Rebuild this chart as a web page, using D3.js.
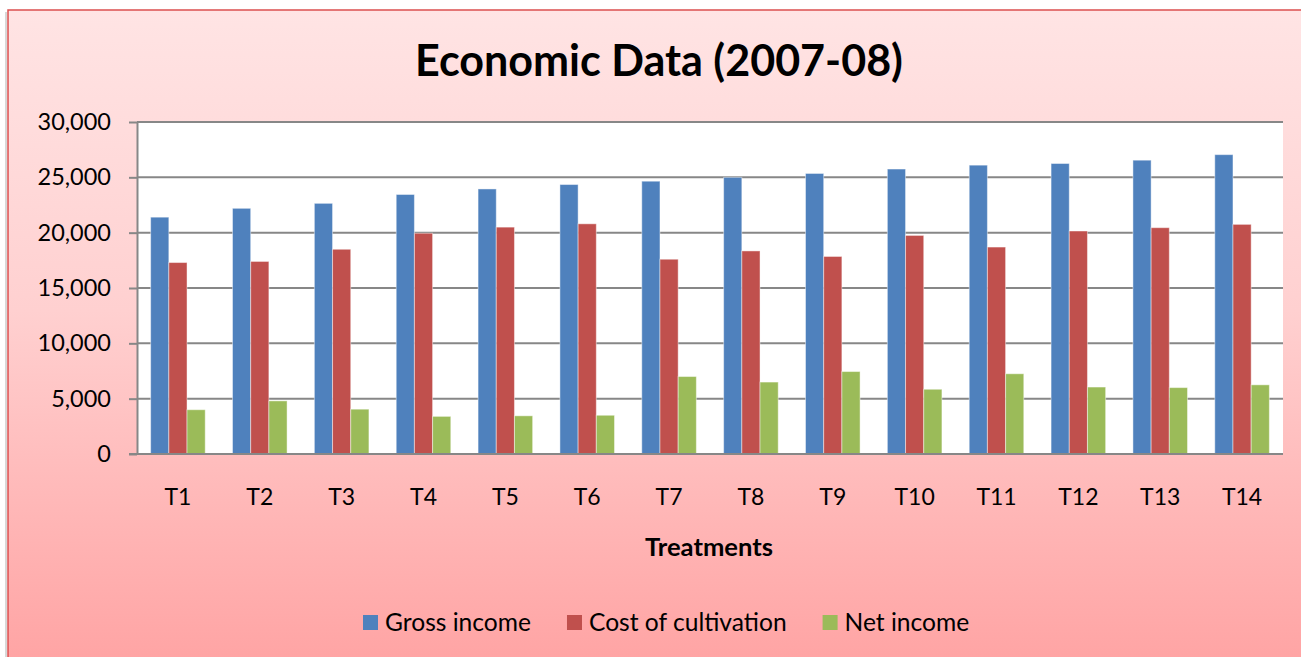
<!DOCTYPE html>
<html>
<head>
<meta charset="utf-8">
<script src="https://cdn.jsdelivr.net/npm/d3@7"></script>
<style>
  html, body { margin: 0; padding: 0; background: #ffffff; }
  svg { display: block; }
  text { font-family: Lato, "Liberation Sans", sans-serif; fill: #000; }
</style>
</head>
<body>
<div id="chart"></div>
<script>
// Economic Data (2007-08) - clustered column chart
const treatments = ['T1', 'T2', 'T3', 'T4', 'T5', 'T6', 'T7',
  'T8', 'T9', 'T10', 'T11', 'T12', 'T13', 'T14'];
const seriesNames = ['Gross income', 'Cost of cultivation', 'Net income'];
const grossIncome = [21400, 22200, 22650, 23450, 23950, 24350, 24650,
  25000, 25350, 25750, 26100, 26250, 26550, 27050];
const costOfCultivation = [17300, 17400, 18500, 19950, 20500, 20800, 17600,
  18350, 17850, 19750, 18700, 20150, 20450, 20750];
const netIncome = [4000, 4800, 4050, 3400, 3450, 3500, 7000,
  6500, 7450, 5850, 7250, 6050, 6000, 6250];
const yTicks = [0, 5000, 10000, 15000, 20000, 25000, 30000];
const colors = ['#4f81bd', '#c0504d', '#9bbb59'];

const width = 1301;
const height = 657;
const plot = { left: 137, right: 1283, top: 122, bottom: 454 };

const rows = treatments.map((t, i) => ({
  name: t,
  values: [grossIncome[i], costOfCultivation[i], netIncome[i]]
}));

const svg = d3.select('#chart')
  .append('svg')
  .attr('width', width)
  .attr('height', height);

// shrink/grow a text node so it spans a given width
function fitWidth(sel, base, target) {
  const w = sel.node().getComputedTextLength();
  sel.style('font-size', (base * target / w).toFixed(2) + 'px');
}

// background gradient of the chart area
const defs = svg.append('defs');
const grad = defs.append('linearGradient')
  .attr('id', 'bg')
  .attr('x1', 0).attr('y1', 0).attr('x2', 0).attr('y2', 1);
grad.append('stop').attr('offset', '0%').attr('stop-color', '#ffe4e4');
grad.append('stop').attr('offset', '45%').attr('stop-color', '#ffd0d0');
grad.append('stop').attr('offset', '100%').attr('stop-color', '#ffa2a2');

// faint shadow on the left, then the frame
svg.append('line')
  .attr('x1', 6).attr('x2', 6).attr('y1', 12).attr('y2', height)
  .attr('stroke', '#d8d8d8').attr('stroke-width', 2);
svg.append('rect')
  .attr('x', 8).attr('y', 10)
  .attr('width', width + 10).attr('height', height + 10)
  .attr('fill', 'url(#bg)')
  .attr('stroke', '#dc4f4f')
  .attr('stroke-width', 1.5);

// plot area
svg.append('rect')
  .attr('x', plot.left).attr('y', plot.top)
  .attr('width', plot.right - plot.left)
  .attr('height', plot.bottom - plot.top)
  .attr('fill', '#ffffff');

const x = d3.scaleBand()
  .domain(treatments)
  .range([plot.left, plot.right])
  .paddingInner(0)
  .paddingOuter(0);

const xInner = d3.scaleBand()
  .domain(seriesNames)
  .range([0, x.bandwidth()])
  .paddingInner(0)
  .paddingOuter(0.75);

const y = d3.scaleLinear()
  .domain([0, 30000])
  .range([plot.bottom, plot.top]);

// gridlines
svg.append('g')
  .selectAll('line')
  .data(yTicks)
  .enter()
  .append('line')
  .attr('x1', plot.left)
  .attr('x2', plot.right)
  .attr('y1', d => y(d))
  .attr('y2', d => y(d))
  .attr('stroke', '#878787')
  .attr('stroke-width', 2);

// bars
const groups = svg.append('g')
  .selectAll('g')
  .data(rows)
  .enter()
  .append('g')
  .attr('transform', d => `translate(${x(d.name)},0)`);

groups.selectAll('rect')
  .data(d => d.values.map((v, k) => ({ key: seriesNames[k], value: v, k: k })))
  .enter()
  .append('rect')
  .attr('x', d => xInner(d.key))
  .attr('y', d => y(d.value))
  .attr('width', xInner.bandwidth())
  .attr('height', d => y(0) - y(d.value))
  .attr('fill', d => colors[d.k])
  .attr('stroke', 'rgba(255,255,255,0.45)')
  .attr('stroke-width', 1);

// y axis
const yAxis = d3.axisLeft(y)
  .tickValues(yTicks)
  .tickFormat(d3.format(','))
  .tickSize(8)
  .tickSizeOuter(0)
  .tickPadding(18);

const yg = svg.append('g')
  .attr('transform', `translate(${plot.left},0)`)
  .call(yAxis);
yg.select('.domain').attr('stroke', '#878787').attr('stroke-width', 2);
yg.selectAll('.tick line').attr('stroke', '#878787').attr('stroke-width', 2);
yg.selectAll('.tick text')
  .style('font-family', 'Lato, sans-serif')
  .style('font-size', '23.5px')
  .attr('fill', '#000');

// bottom axis line
svg.append('line')
  .attr('x1', plot.left - 8).attr('x2', plot.right)
  .attr('y1', plot.bottom).attr('y2', plot.bottom)
  .attr('stroke', '#878787')
  .attr('stroke-width', 2);

// x axis labels
const xAxis = d3.axisBottom(x).tickSize(0).tickSizeOuter(0);
const xg = svg.append('g')
  .attr('transform', `translate(0,${plot.bottom})`)
  .call(xAxis);
xg.select('.domain').remove();
xg.selectAll('.tick text')
  .attr('y', 51)
  .attr('dy', null)
  .style('font-family', 'Lato, sans-serif')
  .style('font-size', '23px')
  .attr('fill', '#000');

// axis title
const xTitle = svg.append('text')
  .attr('x', 709)
  .attr('y', 556)
  .attr('text-anchor', 'middle')
  .style('font-size', '24px')
  .style('font-weight', 'bold')
  .text('Treatments');
fitWidth(xTitle, 24, 128);

// chart title, sized to the reference width
const title = svg.append('text')
  .attr('x', 659)
  .attr('y', 76)
  .attr('text-anchor', 'middle')
  .style('font-size', '40px')
  .style('font-weight', 'bold')
  .text('Economic Data (2007-08)');
fitWidth(title, 40, 488);

// legend
const legend = svg.append('g');
const probe = legend.append('text').style('font-size', '24px').text(seriesNames[0]);
const legendSize = 24 * 146 / probe.node().getComputedTextLength();
probe.remove();
let lx = 363;
seriesNames.forEach((name, k) => {
  legend.append('rect')
    .attr('x', lx)
    .attr('y', 615)
    .attr('width', 15)
    .attr('height', 15)
    .attr('fill', colors[k]);
  const t = legend.append('text')
    .attr('x', lx + 22)
    .attr('y', 631)
    .style('font-size', legendSize.toFixed(2) + 'px')
    .text(name);
  lx += 22 + t.node().getComputedTextLength() + 36;
});
</script>
</body>
</html>
